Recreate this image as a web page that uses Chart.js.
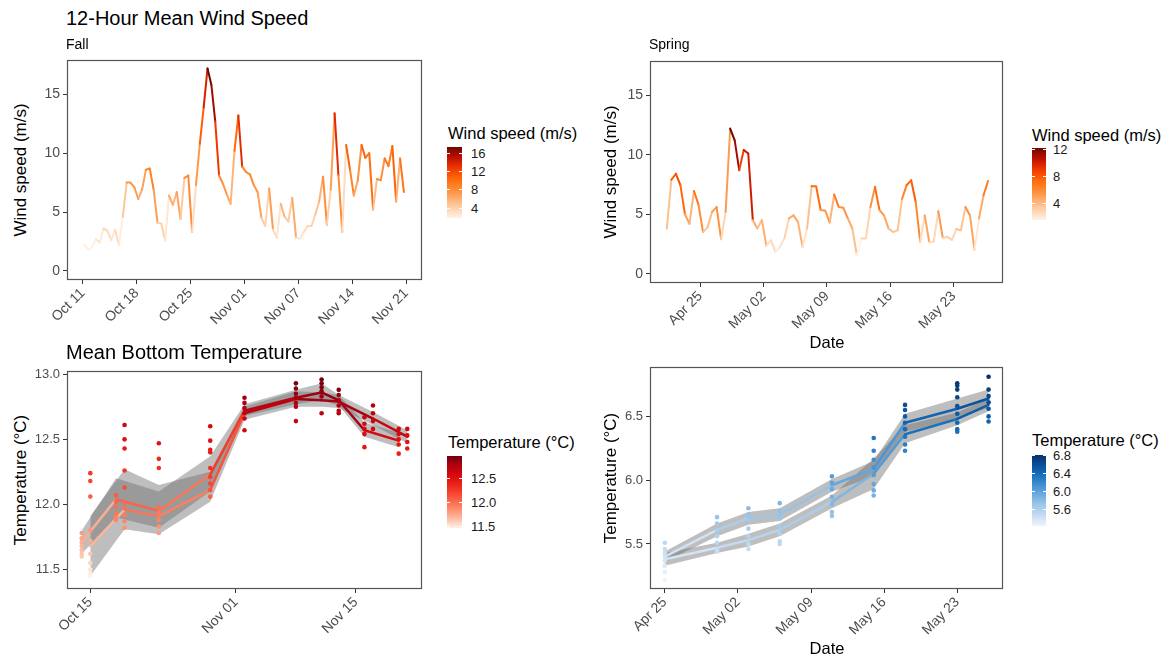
<!DOCTYPE html>
<html><head><meta charset="utf-8">
<script src="https://cdn.jsdelivr.net/npm/chart.js@4.4.1/dist/chart.umd.min.js"></script>
<style>
html,body{margin:0;padding:0;background:#fff;}
body{width:1168px;height:657px;position:relative;overflow:hidden;font-family:"Liberation Sans",Arial,sans-serif;}
canvas{position:absolute;z-index:1;}
.t{position:absolute;white-space:nowrap;color:#000;line-height:1;z-index:2;}
.yt{position:absolute;white-space:nowrap;font-size:17px;line-height:1;z-index:2;transform:translate(-50%,-50%) rotate(-90deg);}
.lg{position:absolute;z-index:2;}
.lgl{position:absolute;white-space:nowrap;font-size:13px;line-height:1;color:#1a1a1a;transform:translateY(-50%);z-index:2;}
.lgt{position:absolute;background:#fff;height:1px;width:3px;z-index:3;}
</style>
</head><body>
<div class="t" style="left:66px;top:8px;font-size:20px;">12-Hour Mean Wind Speed</div>
<div class="t" style="left:66px;top:37px;font-size:14px;">Fall</div>
<div class="t" style="left:649px;top:37px;font-size:14px;">Spring</div>
<div class="t" style="left:66px;top:342px;font-size:20px;">Mean Bottom Temperature</div>
<div class="yt" style="left:20px;top:170px;">Wind speed (m/s)</div>
<div class="yt" style="left:610px;top:172px;">Wind speed (m/s)</div>
<div class="yt" style="left:20px;top:480px;">Temperature (°C)</div>
<div class="yt" style="left:610px;top:478px;">Temperature (°C)</div>
<div class="t" style="left:827px;top:342px;font-size:16.5px;transform:translate(-50%,-50%);">Date</div>
<div class="t" style="left:827px;top:648px;font-size:16.5px;transform:translate(-50%,-50%);">Date</div>
<div id="legends"></div>
<canvas id="c1"></canvas><canvas id="c2"></canvas><canvas id="c3"></canvas><canvas id="c4"></canvas>
<script>
// ================= DATA =================
// 12-hour mean wind speed (m/s); x = days after first tick date, 12-hour steps
const fallWindStartDay = 0.2;      // days after Oct 11
const springWindStartDay = -3.7;   // days after Apr 25
const windStepDays = 0.5;
const fallWindValues = [2.2,1.8,2.0,2.7,2.4,3.6,3.4,2.6,3.5,2.2,
  4.6,7.5,7.5,7.1,6.1,6.9,8.6,8.7,6.9,4.1,
  4.0,2.55,6.4,5.6,6.7,4.4,7.9,8.1,3.3,7.3,
  10.8,13.9,17.2,15.8,12.7,8.1,7.4,6.5,5.7,10.2,
  13.2,8.85,8.4,8.2,7.3,6.7,4.5,3.8,7.0,3.5,
  2.8,5.7,4.6,4.2,6.2,2.8,2.75,3.3,3.8,3.8,
  4.8,5.9,8.0,3.9,6.9,13.4,8.1,3.3,10.7,8.6,
  6.4,7.65,10.7,9.6,10.0,5.2,7.8,7.7,9.55,8.9,
  10.6,5.9,9.55,6.7];
const springWindValues = [3.8,7.9,8.4,7.45,5.0,4.2,6.95,5.8,3.5,3.9,
  5.2,5.6,2.9,5.2,12.2,11.2,8.7,10.4,10.1,4.5,
  3.8,4.5,2.35,2.8,1.85,2.25,3.0,4.65,4.9,4.35,
  2.25,3.8,7.35,7.35,5.35,5.3,4.3,6.65,5.6,5.55,
  4.65,3.8,1.55,2.95,2.95,5.6,7.3,5.35,4.9,3.8,
  3.5,3.65,6.3,7.45,7.85,6.05,2.7,4.9,2.65,2.7,
  5.25,3.0,3.1,2.85,3.75,3.65,5.6,4.9,2.0,4.65,
  6.6,7.8];

// Fall bottom temperature (days after Oct 15)
const fallTempDaysA = [-1,3,8,14,18,24,27,29,32,36];
const fallTempMeanA = [11.71,12.04,11.95,12.23,12.72,12.82,12.86,12.80,12.57,12.49];
const fallTempLoA   = [11.62,11.90,11.82,12.10,12.68,12.77,12.80,12.76,12.52,12.44];
const fallTempHiA   = [11.80,12.20,12.10,12.37,12.77,12.88,12.93,12.84,12.63,12.55];
const fallTempDaysB = [0,4,8,14,18,24,27,29,33,37];
const fallTempMeanB = [11.68,11.96,11.91,12.11,12.70,12.81,12.80,12.79,12.66,12.52];
const fallTempLoB   = [11.45,11.81,11.77,12.02,12.65,12.75,12.75,12.74,12.61,12.47];
const fallTempHiB   = [11.91,12.27,12.15,12.25,12.75,12.87,12.86,12.84,12.71,12.57];
const fallTempObsDays = [-1,0,3,4,8,14,18,24,27,29,32,33,36,37];
const fallTempObs = [
  [11.78,11.74,11.71,11.68,11.65,11.62,11.60],
  [12.24,12.18,12.06,11.80,11.72,11.62,11.55,11.50,11.47,11.45],
  [12.07,12.02,11.98,11.93,11.90,11.88],
  [12.61,12.50,12.43,12.26,12.13,12.01,11.97,11.92,11.87,11.82],
  [12.47,12.35,12.28,11.98,11.93,11.88,11.83,11.78],
  [12.60,12.49,12.42,12.40,12.28,12.21,12.16,12.11,12.06],
  [12.82,12.78,12.74,12.70,12.66,12.57],
  [12.93,12.89,12.85,12.82,12.78,12.75,12.64],
  [12.96,12.93,12.90,12.87,12.83,12.70],
  [12.88,12.84,12.80,12.76,12.72,12.70],
  [12.67,12.62,12.58,12.54,12.44],
  [12.76,12.70,12.64,12.58],
  [12.58,12.54,12.50,12.46,12.39],
  [12.58,12.53,12.48,12.43]
];

// Spring bottom temperature (days after Apr 25)
const springTempDays = [0,5,8,11,16,20,23,28,31];
const springTempMeanU = [5.40,5.61,5.70,5.73,5.96,6.09,6.45,6.56,6.64];
const springTempLoU   = [5.36,5.56,5.65,5.68,5.91,6.03,6.38,6.48,6.57];
const springTempHiU   = [5.44,5.66,5.75,5.78,6.01,6.15,6.52,6.64,6.71];
const springTempMeanL = [5.38,5.47,5.53,5.61,5.83,6.05,6.36,6.48,6.59];
const springTempLoL   = [5.33,5.43,5.48,5.56,5.78,5.93,6.29,6.43,6.54];
const springTempHiL   = [5.43,5.51,5.58,5.66,5.88,6.17,6.43,6.53,6.64];
const springTempObs = [
  [5.51,5.46,5.43,5.40,5.37,5.33,5.28,5.22],
  [5.71,5.66,5.61,5.56,5.51,5.46,5.44],
  [5.78,5.73,5.68,5.62,5.56,5.50,5.46],
  [5.82,5.76,5.70,5.64,5.58,5.52,5.50],
  [6.03,5.98,5.93,5.87,5.81,5.75,5.72],
  [6.33,6.23,6.16,6.10,6.04,5.97,5.92,5.88],
  [6.59,6.55,6.50,6.45,6.40,6.34,6.28,6.23],
  [6.76,6.74,6.71,6.65,6.58,6.52,6.45,6.40,6.38],
  [6.81,6.71,6.66,6.61,6.56,6.50,6.46]
];

// Ticks
const fallWindTickDays = [0,7,14,21,28,35,42];
const fallWindTickLabels = ['Oct 11','Oct 18','Oct 25','Nov 01','Nov 07','Nov 14','Nov 21'];
const springTickDays = [0,7,14,21,28];
const springTickLabels = ['Apr 25','May 02','May 09','May 16','May 23'];
const fallTempTickDays = [0,17,31];
const fallTempTickLabels = ['Oct 15','Nov 01','Nov 15'];
const windYTicks = [0,5,10,15];
const fallTempYTicks = [11.5,12.0,12.5,13.0];
const springTempYTicks = [5.5,6.0,6.5];
const fallWindLegendTicks = [4,8,12,16];
const springWindLegendTicks = [4,8,12];
const fallTempLegendTicks = [11.5,12.0,12.5];
const springTempLegendTicks = [5.6,6.0,6.4,6.8];

// ================= STYLE / LAYOUT =================
const FONT = '"Liberation Sans", Arial, sans-serif';
const ORANGES = [[0,'#fff2e8'],[0.18,'#fdc89a'],[0.38,'#fd9240'],[0.55,'#ff6a0a'],[0.7,'#f03a00'],[0.85,'#c01000'],[1,'#6a0800']];
const REDS = [[0,'#fff0ea'],[0.15,'#fcb59a'],[0.3,'#fc8060'],[0.5,'#f5402c'],[0.7,'#e00c10'],[0.88,'#b00010'],[1,'#6e0010']];
const BLUES = [[0,'#eef4fc'],[0.15,'#c6dcf2'],[0.3,'#9cc6ea'],[0.5,'#5aa0da'],[0.65,'#2a80c8'],[0.8,'#0b5eab'],[1,'#08306b']];
const RIBBON = 'rgba(110,110,110,0.45)';

const GEOM = {
  c1:{canvas:[30,44,405,306], plot:[67,60,422,280], x:[-2.05,44.05], y:[-0.78,17.92]},
  c2:{canvas:[612,44,405,306], plot:[650,61,1003,283], x:[-5.56,33.45], y:[-0.78,17.88]},
  c3:{canvas:[30,356,405,301], plot:[67,371,422,589], x:[-2.72,38.72], y:[11.35,13.025]},
  c4:{canvas:[612,352,405,305], plot:[650,367,1003,589], x:[-1.42,32.38], y:[5.147,6.887]},
};
const LEG = {
  c1:{title:'Wind speed (m/s)', tx:448, ty:133, bar:[447,147,15,71], lx:471},
  c2:{title:'Wind speed (m/s)', tx:1032, ty:135, bar:[1032,148,14,72], lx:1053},
  c3:{title:'Temperature (°C)', tx:448, ty:442, bar:[447,456,15,72], lx:471},
  c4:{title:'Temperature (°C)', tx:1032, ty:440, bar:[1032,455,14,71], lx:1053},
};

function hex2rgb(h){return [parseInt(h.slice(1,3),16),parseInt(h.slice(3,5),16),parseInt(h.slice(5,7),16)];}
function makeScale(stops,min,max){
  return v=>{
    let t=(v-min)/(max-min); t=Math.max(0,Math.min(1,t));
    for(let i=1;i<stops.length;i++){
      if(t<=stops[i][0]){
        const a=stops[i-1],b=stops[i]; const f=(t-a[0])/(b[0]-a[0]);
        const ca=hex2rgb(a[1]),cb=hex2rgb(b[1]);
        return 'rgb('+ca.map((c,k)=>Math.round(c+(cb[k]-c)*f)).join(',')+')';
      }
    }
    return stops[stops.length-1][1];
  };
}
const flat = a => a.reduce((s,x)=>s.concat(x),[]);
const fwMin=Math.min(...fallWindValues), fwMax=Math.max(...fallWindValues);
const swMin=Math.min(...springWindValues), swMax=Math.max(...springWindValues);
const ftAll=flat(fallTempObs), stAll=flat(springTempObs);
const ftMin=Math.min(...ftAll), ftMax=Math.max(...ftAll);
const stMin=Math.min(...stAll), stMax=Math.max(...stAll);
const colFW=makeScale(ORANGES,fwMin,fwMax), colSW=makeScale(ORANGES,swMin,swMax);
const colFT=makeScale(REDS,ftMin,ftMax), colST=makeScale(BLUES,stMin,stMax);

const boxPlugin={id:'box',afterDraw(chart){
  const a=chart.chartArea,ctx=chart.ctx; ctx.save();
  ctx.strokeStyle='#555'; ctx.lineWidth=1.2;
  ctx.strokeRect(a.left+0.5,a.top+0.5,a.right-a.left-1,a.bottom-a.top-1); ctx.restore();
}};

function lineDS(xs,ys,col,w){
  return {type:'line',data:xs.map((x,i)=>({x,y:ys[i]})),borderWidth:w,pointRadius:0,fill:false,tension:0,
    borderColor:col(ys[0]),segment:{borderColor:c=>col(c.p0.parsed.y)},order:2,borderCapStyle:'round',borderJoinStyle:'round'};
}
function ribbonDS(xs,lo,hi){
  return [
    {type:'line',data:xs.map((x,i)=>({x,y:hi[i]})),borderWidth:0,pointRadius:0,fill:'+1',backgroundColor:RIBBON,order:3},
    {type:'line',data:xs.map((x,i)=>({x,y:lo[i]})),borderWidth:0,pointRadius:0,fill:false,order:3}
  ];
}
function pointsDS(days,obs,col){
  const data=[]; days.forEach((d,i)=>obs[i].forEach(v=>data.push({x:d,y:v})));
  return {type:'scatter',data,pointRadius:2.3,pointBorderWidth:0,
    pointBackgroundColor:c=>col(c.raw.y),backgroundColor:c=>col(c.raw.y),order:1};
}

function makeChart(id,datasets,xTicks,xLabels,yTicks,yDec,xFont,yFont){
  const g=GEOM[id], cv=document.getElementById(id);
  const [cl,ct,cw,ch]=g.canvas, [pl,pt,pr,pb]=g.plot;
  cv.width=cw; cv.height=ch; cv.style.left=cl+'px'; cv.style.top=ct+'px';
  cv.style.width=cw+'px'; cv.style.height=ch+'px';
  new Chart(cv,{
    data:{datasets},
    options:{
      responsive:false,animation:false,devicePixelRatio:1,
      layout:{padding:{left:0,top:pt-ct,right:cl+cw-pr,bottom:0}},
      plugins:{legend:{display:false},tooltip:{enabled:false}},
      scales:{
        x:{type:'linear',min:g.x[0],max:g.x[1],
          afterBuildTicks:s=>{s.ticks=xTicks.map(v=>({value:v}));},
          afterFit:s=>{s.height=ct+ch-pb;},
          ticks:{callback:(v,i)=>xLabels[i],minRotation:45,maxRotation:45,autoSkip:false,
            color:'#4d4d4d',font:{size:xFont,family:FONT},padding:1},
          grid:{drawOnChartArea:false,drawTicks:true,tickLength:4,color:'#333',lineWidth:1},
          border:{display:false}},
        y:{type:'linear',min:g.y[0],max:g.y[1],
          afterBuildTicks:s=>{s.ticks=yTicks.map(v=>({value:v}));},
          afterFit:s=>{s.width=pl-cl;},
          ticks:{callback:(v,i)=>yTicks[i].toFixed(yDec),autoSkip:false,
            color:'#4d4d4d',font:{size:yFont,family:FONT},padding:3},
          grid:{drawOnChartArea:false,drawTicks:true,tickLength:4,color:'#333',lineWidth:1},
          border:{display:false}}
      }
    },
    plugins:[boxPlugin]
  });
}

// Panel 1: fall wind
const fwDays=fallWindValues.map((v,i)=>fallWindStartDay+i*windStepDays);
makeChart('c1',[lineDS(fwDays,fallWindValues,colFW,2)],fallWindTickDays,fallWindTickLabels,windYTicks,0,14,14);
// Panel 2: spring wind
const swDays=springWindValues.map((v,i)=>springWindStartDay+i*windStepDays);
makeChart('c2',[lineDS(swDays,springWindValues,colSW,2)],springTickDays,springTickLabels,windYTicks,0,14,14);
// Panel 3: fall temperature
makeChart('c3',[
  pointsDS(fallTempObsDays,fallTempObs,colFT),
  lineDS(fallTempDaysA,fallTempMeanA,colFT,2.5),
  lineDS(fallTempDaysB,fallTempMeanB,colFT,2.5),
  ...ribbonDS(fallTempDaysA,fallTempLoA,fallTempHiA),
  ...ribbonDS(fallTempDaysB,fallTempLoB,fallTempHiB)
],fallTempTickDays,fallTempTickLabels,fallTempYTicks,1,14,13);
// Panel 4: spring temperature
makeChart('c4',[
  pointsDS(springTempDays,springTempObs,colST),
  lineDS(springTempDays,springTempMeanU,colST,2.5),
  lineDS(springTempDays,springTempMeanL,colST,2.5),
  ...ribbonDS(springTempDays,springTempLoU,springTempHiU),
  ...ribbonDS(springTempDays,springTempLoL,springTempHiL)
],springTickDays,springTickLabels,springTempYTicks,1,14,13);

// Legends (colour bars)
function legend(id,stops,min,max,ticks,dec){
  const L=LEG[id], root=document.getElementById('legends');
  const [bx,by,bw,bh]=L.bar;
  let h='<div class="t" style="left:'+L.tx+'px;top:'+(L.ty-8)+'px;font-size:16.5px;">'+L.title+'</div>';
  const grad=stops.map(s=>s[1]+' '+(s[0]*100)+'%').join(',');
  h+='<div class="lg" style="left:'+bx+'px;top:'+by+'px;width:'+bw+'px;height:'+bh+'px;background:linear-gradient(to top,'+grad+');"></div>';
  ticks.forEach(v=>{
    const y=by+bh-(v-min)/(max-min)*bh;
    h+='<div class="lgt" style="left:'+bx+'px;top:'+Math.round(y)+'px;"></div>';
    h+='<div class="lgt" style="left:'+(bx+bw-3)+'px;top:'+Math.round(y)+'px;"></div>';
    h+='<div class="lgl" style="left:'+L.lx+'px;top:'+y+'px;">'+v.toFixed(dec)+'</div>';
  });
  root.insertAdjacentHTML('beforeend',h);
}
legend('c1',ORANGES,fwMin,fwMax,fallWindLegendTicks,0);
legend('c2',ORANGES,swMin,swMax,springWindLegendTicks,0);
legend('c3',REDS,ftMin,ftMax,fallTempLegendTicks,1);
legend('c4',BLUES,stMin,stMax,springTempLegendTicks,1);
</script>
</body></html>
